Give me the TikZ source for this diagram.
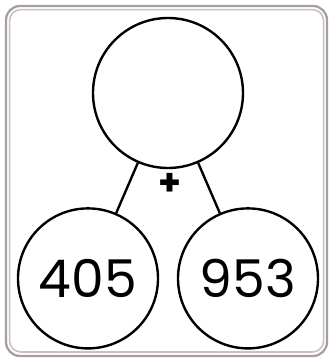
\documentclass[tikz,border=0pt]{standalone}
\usepackage{fontspec}
\setmainfont{Poppins}
\usepackage{xcolor}
\usetikzlibrary{positioning}
\definecolor{framegray}{HTML}{A89E9E}
\definecolor{framelight}{HTML}{C8C0C0}
\tikzset{
  numcircle/.style={circle, draw=black, line width=1.7pt, fill=white, inner sep=0pt,
    font=\fontsize{37}{37}\selectfont},
  branch/.style={line width=1.7pt, black},
}
\begin{document}
\begin{tikzpicture}
    % 背景
    \useasboundingbox[fill=white] (0,0) rectangle (8.225,8.95);

    % 枠
    \draw[line width=1.6pt, framegray, rounded corners=0.35cm] (0.15,0.05) rectangle (8.175,8.8);
    \draw[line width=1.1pt, framelight, rounded corners=0.28cm] (0.24,0.15) rectangle (8.09,8.71);

    % 円
    \node[numcircle, minimum size=3.75cm] (total) at (4.2,6.625) {};
    \node[numcircle, minimum size=3.5cm] (left) at (2.2,1.99) {405};
    \node[numcircle, minimum size=3.5cm] (right) at (6.2,1.99) {953};

    % 枝
    \draw[branch] (total) -- (left);
    \draw[branch] (total) -- (right);

    % 演算子
    \node[font=\fontsize{26}{26}\selectfont\bfseries] (plus) at (4.25,4.35) {+};
\end{tikzpicture}
\end{document}
